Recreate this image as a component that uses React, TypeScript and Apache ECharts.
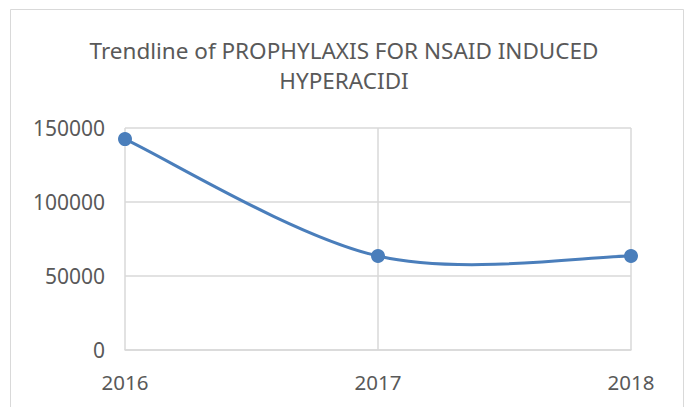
import React, { useEffect, useRef } from "react";
import * as echarts from "echarts";

const years = [2016, 2017, 2018];
const values = [142500, 63500, 63500];
const yTicks = [0, 50000, 100000, 150000];
const titleLines = ["Trendline of PROPHYLAXIS FOR NSAID INDUCED", "HYPERACIDI"];

const FONT = "'Noto Sans', sans-serif";
const BLUE = "#4a7ebb";

export default function App() {
  const ref = useRef<HTMLDivElement>(null);
  useEffect(() => {
    if (!ref.current) return;
    const chart = echarts.init(ref.current, null, { renderer: "svg" });
    chart.setOption({
      animation: false,
      backgroundColor: "#ffffff",
      title: {
        text: titleLines.join("\n"),
        left: "center",
        top: 30,
        textStyle: {
          fontFamily: FONT,
          fontSize: 22.5,
          fontWeight: "normal",
          color: "#595959",
          lineHeight: 30,
        },
      },
      graphic: [
        {
          type: "rect",
          shape: { x: 10.5, y: 9.5, width: 673, height: 420 },
          style: { fill: "none", stroke: "#d9d9d9", lineWidth: 1 },
          silent: true,
        },
      ],
      grid: { left: 125, right: 57, top: 128, bottom: 57 },
      xAxis: {
        type: "value",
        min: years[0],
        max: years[years.length - 1],
        interval: 1,
        axisLine: { show: true, lineStyle: { color: "#d9d9d9", width: 1.5 } },
        axisTick: { show: false },
        splitLine: { show: true, lineStyle: { color: "#d9d9d9", width: 1.5 } },
        axisLabel: {
          formatter: (v: number) => String(v),
          fontFamily: FONT,
          fontSize: 20.5,
          color: "#595959",
          margin: 21,
        },
      },
      yAxis: {
        type: "value",
        min: yTicks[0],
        max: yTicks[yTicks.length - 1],
        interval: 50000,
        axisLine: { show: false },
        axisTick: { show: false },
        splitLine: { show: true, lineStyle: { color: "#d9d9d9", width: 1.5 } },
        axisLabel: {
          formatter: (v: number) => String(v),
          fontFamily: FONT,
          fontSize: 21,
          color: "#595959",
          margin: 20,
        },
      },
      series: [
        {
          type: "custom",
          data: years.map((y, i) => [y, values[i]]),
          z: 2,
          renderItem: (params: any, api: any) => {
            if (params.dataIndex !== 0) return null;
            const pts = years.map((y, i) => api.coord([y, values[i]]));
            const n = pts.length;
            let d = `M${pts[0][0]},${pts[0][1]}`;
            for (let i = 0; i < n - 1; i++) {
              const p0 = pts[Math.max(0, i - 1)];
              const p1 = pts[i];
              const p2 = pts[i + 1];
              const p3 = pts[Math.min(n - 1, i + 2)];
              const c1x = p1[0] + (p2[0] - p0[0]) / 6;
              const c1y = p1[1] + (p2[1] - p0[1]) / 6;
              const c2x = p2[0] - (p3[0] - p1[0]) / 6;
              const c2y = p2[1] - (p3[1] - p1[1]) / 6;
              d += ` C${c1x},${c1y} ${c2x},${c2y} ${p2[0]},${p2[1]}`;
            }
            return {
              type: "path",
              shape: { pathData: d },
              style: { fill: "none", stroke: BLUE, lineWidth: 3 },
            };
          },
        },
        {
          type: "line",
          data: years.map((y, i) => [y, values[i]]),
          z: 3,
          symbol: "circle",
          symbolSize: 14,
          lineStyle: { width: 0, opacity: 0 },
          itemStyle: { color: BLUE },
        },
      ],
    });
    return () => chart.dispose();
  }, []);
  return (
    <div
      ref={ref}
      style={{ position: "fixed", left: 0, top: 0, width: 688, height: 407 }}
    />
  );
}
